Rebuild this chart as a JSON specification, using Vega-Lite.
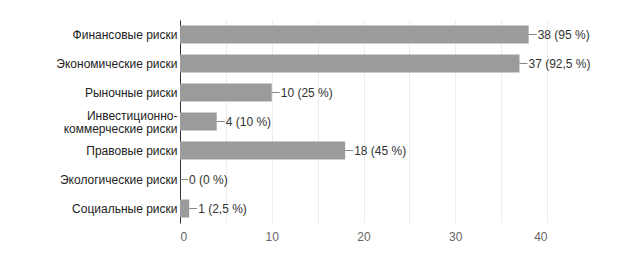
{
  "$schema": "https://vega.github.io/schema/vega-lite/v6.json",
  "autosize": "none",
  "width": 367,
  "height": 203,
  "padding": {"left": 180, "top": 20, "right": 79, "bottom": 42},
  "background": "white",
  "config": {"view": {"stroke": null}, "font": "Liberation Sans"},
  "data": {"values": [
    {"cat": "Финансовые риски", "value": 38, "label": "38 (95 %)"},
    {"cat": "Экономические риски", "value": 37, "label": "37 (92,5 %)"},
    {"cat": "Рыночные риски", "value": 10, "label": "10 (25 %)"},
    {"cat": "Инвестиционно-коммерческие риски", "value": 4, "label": "4 (10 %)"},
    {"cat": "Правовые риски", "value": 18, "label": "18 (45 %)"},
    {"cat": "Экологические риски", "value": 0, "label": "0 (0 %)"},
    {"cat": "Социальные риски", "value": 1, "label": "1 (2,5 %)"}
  ]},
  "encoding": {
    "y": {"field": "cat", "type": "nominal", "sort": null,
      "scale": {"paddingInner": 0.38, "paddingOuter": 0.19},
      "axis": {"title": null, "ticks": false, "domainColor": "#333333", "domainWidth": 1,
        "labelColor": "#222222", "labelFontSize": 12, "labelPadding": 3, "labelLimit": 200, "labelLineHeight": 13,
        "labelOffset": {"condition": {"test": "datum.label == 'Инвестиционно-коммерческие риски'", "value": -6}, "value": 0},
        "labelExpr": "datum.label == 'Инвестиционно-коммерческие риски' ? ['Инвестиционно-', 'коммерческие риски'] : datum.label"}}
  },
  "layer": [
    {"mark": {"type": "bar", "color": "#9b9b9b"},
      "encoding": {"x": {"field": "value", "type": "quantitative",
        "scale": {"domain": [0, 40], "nice": false},
        "axis": {"title": null, "values": [0,5,10,15,20,25,30,35,40], "domain": false, "ticks": false,
          "gridColor": "#ececec", "labelColor": "#666666", "labelFontSize": 12, "labelPadding": 8,
          "labelExpr": "datum.value % 10 == 0 ? datum.label : ''"}}}},
    {"mark": {"type": "rule", "color": "#888888", "x2Offset": 8},
      "encoding": {"x": {"field": "value", "type": "quantitative"}, "x2": {"field": "value"}}},
    {"mark": {"type": "text", "align": "left", "dx": 9, "fontSize": 12, "color": "#333333"},
      "encoding": {"x": {"field": "value", "type": "quantitative"}, "text": {"field": "label"}}}
  ]
}
